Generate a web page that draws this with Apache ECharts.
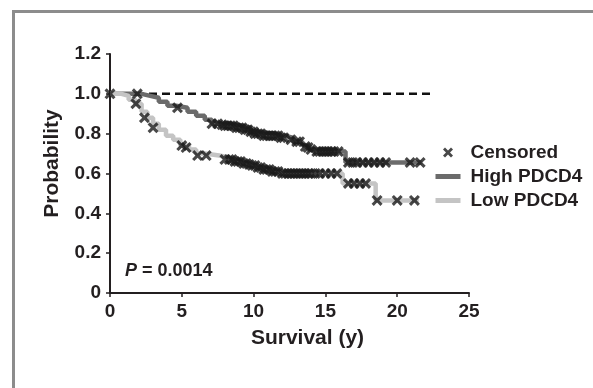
<!DOCTYPE html>
<html>
<head>
<meta charset="utf-8">
<script src="https://cdn.jsdelivr.net/npm/echarts@6/dist/echarts.min.js"></script>
<style>
  html, body { margin: 0; padding: 0; background: #fff; }
  #chart { width: 593px; height: 388px; }
</style>
</head>
<body>
<div id="chart"></div>
<script>
// Kaplan-Meier steps: [years, probability]
const highSteps = [
  [0, 1], [1.8, 1], [2.2, 0.99], [2.8, 0.98], [3.4, 0.96], [4.0, 0.94], [4.6, 0.93],
  [5.4, 0.91], [6.0, 0.89], [6.6, 0.87], [7.1, 0.85], [8.4, 0.84], [9.2, 0.83],
  [9.8, 0.81], [10.4, 0.80], [11.4, 0.79], [12.2, 0.78], [12.7, 0.76], [13.4, 0.74],
  [13.9, 0.72], [14.3, 0.71], [16.4, 0.655], [21.7, 0.655]
];
const lowSteps = [
  [0, 1], [0.8, 0.99], [1.3, 0.97], [1.8, 0.95], [2.2, 0.91], [2.6, 0.88], [3.0, 0.85],
  [3.4, 0.82], [3.9, 0.79], [4.4, 0.77], [4.9, 0.74], [5.5, 0.72], [6.0, 0.70],
  [6.6, 0.69], [7.6, 0.68], [8.3, 0.67], [9.0, 0.66], [9.7, 0.645], [10.3, 0.63],
  [10.9, 0.62], [11.4, 0.61], [12.0, 0.60], [16.2, 0.55], [18.5, 0.465], [21.5, 0.465]
];
const highCensored = [
  [0, 1], [1.9, 1], [4.7, 0.93], [7.1, 0.85], [7.5, 0.85], [7.8, 0.845], [8.0, 0.84],
  [8.2, 0.84], [8.4, 0.84], [8.6, 0.84], [8.8, 0.83], [9.0, 0.83], [9.2, 0.83],
  [9.4, 0.82], [9.6, 0.82], [9.8, 0.81], [10.0, 0.81], [10.1, 0.80], [10.3, 0.80],
  [10.5, 0.80], [10.7, 0.79], [10.9, 0.79], [11.1, 0.79], [11.3, 0.79], [11.5, 0.79],
  [11.7, 0.79], [11.9, 0.78], [12.1, 0.78], [12.6, 0.77], [13.0, 0.76], [13.2, 0.76],
  [13.6, 0.735], [13.8, 0.73], [14.0, 0.72], [14.4, 0.71], [14.6, 0.71], [14.8, 0.71],
  [15.0, 0.71], [15.2, 0.71], [15.4, 0.71], [15.6, 0.71], [15.9, 0.71], [16.6, 0.655],
  [16.9, 0.655], [17.2, 0.655], [17.6, 0.655], [18.0, 0.655], [18.4, 0.655],
  [18.8, 0.655], [19.2, 0.655], [20.9, 0.655], [21.6, 0.655]
];
const lowCensored = [
  [1.8, 0.95], [2.4, 0.88], [3.0, 0.83], [5.0, 0.74], [5.3, 0.73], [6.1, 0.69],
  [6.7, 0.69], [8.0, 0.67], [8.3, 0.67], [8.5, 0.67], [8.7, 0.66], [8.9, 0.66],
  [9.1, 0.66], [9.3, 0.65], [9.5, 0.65], [9.7, 0.645], [9.9, 0.64], [10.1, 0.64],
  [10.3, 0.63], [10.5, 0.63], [10.7, 0.62], [10.9, 0.62], [11.1, 0.62], [11.3, 0.61],
  [11.5, 0.61], [11.7, 0.61], [12.0, 0.60], [12.2, 0.60], [12.4, 0.60], [12.6, 0.60],
  [12.8, 0.60], [13.0, 0.60], [13.2, 0.60], [13.4, 0.60], [13.6, 0.60], [13.8, 0.60],
  [14.0, 0.60], [14.3, 0.60], [14.6, 0.60], [15.0, 0.60], [15.4, 0.60], [15.8, 0.60],
  [16.6, 0.55], [17.0, 0.55], [17.4, 0.55], [17.8, 0.55], [18.6, 0.465], [20.0, 0.465],
  [21.2, 0.465]
];
const referenceLine = [[0, 1], [22.4, 1]];
const pValueText = "0.0014";

const FONT = "'Liberation Sans', Arial, Helvetica, sans-serif";
const INK = "#231f20";
// bold "x" drawn as a filled outline
const CROSS = "path://M0,2L2,0L5,3L8,0L10,2L7,5L10,8L8,10L5,7L2,10L0,8L3,5Z";

const chart = echarts.init(document.getElementById("chart"), null, { renderer: "canvas" });

chart.setOption({
  backgroundColor: "#fff",
  animation: false,
  textStyle: { fontFamily: FONT },
  grid: { left: 110, right: 124, top: 54, bottom: 95, containLabel: false },
  xAxis: {
    type: "value",
    min: 0, max: 25, interval: 5,
    name: "Survival (y)",
    nameLocation: "middle",
    nameGap: 35,
    nameTextStyle: {
      color: INK, fontSize: 21, fontWeight: "bold", fontFamily: FONT,
      padding: [0, 0, 0, 36]
    },
    axisLine: { lineStyle: { color: INK, width: 2 } },
    axisTick: { show: true, inside: false, length: 4, lineStyle: { color: INK, width: 1.5 } },
    axisLabel: { color: INK, fontSize: 19, fontWeight: "bold", margin: 9, fontFamily: FONT },
    splitLine: { show: false }
  },
  yAxis: {
    type: "value",
    min: 0, max: 1.2, interval: 0.2,
    name: "Probability",
    nameLocation: "middle",
    nameGap: 47,
    nameTextStyle: {
      color: INK, fontSize: 21, fontWeight: "bold", fontFamily: FONT,
      padding: [0, 0, 0, 20]
    },
    axisLine: { show: true, lineStyle: { color: INK, width: 2 } },
    axisTick: { show: true, inside: false, length: 4, lineStyle: { color: INK, width: 1.5 } },
    axisLabel: {
      color: INK, fontSize: 19, fontWeight: "bold", margin: 9, fontFamily: FONT,
      formatter: (v) => (v === 0 ? "0" : v.toFixed(1))
    },
    splitLine: { show: false }
  },
  legend: {
    orient: "vertical",
    left: 428, top: 138,
    itemWidth: 25, itemHeight: 10, itemGap: 5,
    textStyle: {
      color: INK, fontSize: 19, fontWeight: "bold", fontFamily: FONT,
      padding: [0, 0, 0, 5]
    },
    data: [
      { name: "Censored" },
      { name: "High PDCD4", itemStyle: { opacity: 0 }, lineStyle: { width: 5 } },
      { name: "Low PDCD4", itemStyle: { opacity: 0 }, lineStyle: { width: 5 } }
    ]
  },
  graphic: [
    {
      type: "rect", left: 11, top: 9, silent: true,
      shape: { width: 620, height: 420 },
      style: { fill: "none", stroke: "#8c8c8c", lineWidth: 3 }
    },
    {
      type: "text", left: 125, top: 262, silent: true,
      style: {
        text: "{p|P} = " + pValueText,
        fill: INK, font: "bold 18px " + FONT,
        rich: { p: { fontStyle: "italic", fontWeight: "bold", fontSize: 18, fill: INK, fontFamily: FONT } }
      }
    }
  ],
  series: [
    {
      type: "line", data: referenceLine, symbol: "none", silent: true,
      lineStyle: { color: "#111", width: 2.5, type: [8, 5] }, z: 1
    },
    {
      name: "High PDCD4", type: "line", step: "end", data: highSteps, symbol: "none",
      lineStyle: { color: "#6b6b6b", width: 4.5 }, itemStyle: { color: "#6b6b6b" }, z: 2
    },
    {
      name: "Low PDCD4", type: "line", step: "end", data: lowSteps, symbol: "none",
      lineStyle: { color: "#c4c4c4", width: 4.5 }, itemStyle: { color: "#c4c4c4" }, z: 2
    },
    {
      name: "Censored", type: "scatter", data: highCensored.concat(lowCensored),
      symbol: CROSS, symbolSize: 11, symbolKeepAspect: true,
      itemStyle: { color: "#1a1a1a" }, z: 3
    }
  ]
});
</script>
</body>
</html>
